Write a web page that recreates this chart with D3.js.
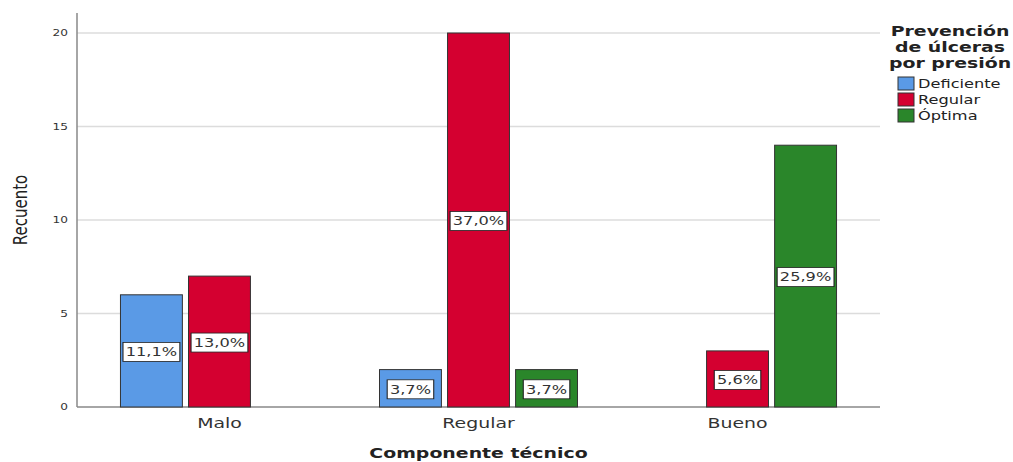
<!DOCTYPE html>
<html>
<head>
<meta charset="utf-8">
<script src="https://cdn.jsdelivr.net/npm/d3@7"></script>
<style>
  body { margin: 0; background: #fff; }
  text { font-family: "DejaVu Sans", sans-serif; }
</style>
</head>
<body>
<div class="visContainer"></div>
<script>
const categories = ['Malo', 'Regular', 'Bueno'];
const seriesNames = ['Deficiente', 'Regular', 'Óptima'];
const deficiente = [6, 2, 0];
const regular = [7, 20, 3];
const optima = [0, 2, 14];
const yTicks = [0, 5, 10, 15, 20];
const colors = ['#5a9ae6', '#d40030', '#2a862a'];

const width = 1013;
const height = 462;
const plotLeft = 77, plotRight = 880, plotTop = 13, plotBottom = 407;
const sx = 1.35; // the picture's text is drawn wide

const values = [deficiente, regular, optima];
const total = d3.sum(values.flat());
const fmt = (v) => (v / total * 100).toFixed(1).replace('.', ',') + '%';

const dataset = [];
categories.forEach((c, i) => {
    seriesNames.forEach((s, j) => {
        if (values[j][i] > 0) dataset.push({cat: c, series: s, idx: j, value: values[j][i]});
    });
});

const xScale = d3.scalePoint().domain(categories).range([plotLeft, plotRight]).padding(0.55);
const inner = d3.scaleBand().domain(seriesNames).range([-99, 99]).paddingInner(0.09);
const yScale = d3.scaleLinear().domain([0, 21.07]).range([plotBottom, plotTop]);

const svg = d3.select('.visContainer')
              .append('svg')
              .attr('width', width)
              .attr('height', height);

// gridlines
svg.selectAll('line.grid')
   .data(yTicks.filter((t) => t > 0))
   .enter()
   .append('line')
   .attr('class', 'grid')
   .attr('x1', plotLeft).attr('x2', plotRight)
   .attr('y1', (d) => yScale(d)).attr('y2', (d) => yScale(d))
   .attr('stroke', '#dcdcdc').attr('stroke-width', 1.5);

// y tick labels
svg.selectAll('text.ytick')
   .data(yTicks)
   .enter()
   .append('text')
   .attr('class', 'ytick')
   .attr('transform', (d) => `translate(68,${yScale(d)}) scale(${sx},1)`)
   .attr('text-anchor', 'end')
   .attr('dy', '0.35em')
   .attr('font-size', 9)
   .attr('fill', '#333')
   .text((d) => d);

// axes lines
svg.append('line').attr('x1', plotLeft).attr('x2', plotLeft).attr('y1', plotTop).attr('y2', plotBottom)
   .attr('stroke', '#888').attr('stroke-width', 1.5);
svg.append('line').attr('x1', plotLeft).attr('x2', plotRight).attr('y1', plotBottom).attr('y2', plotBottom)
   .attr('stroke', '#888').attr('stroke-width', 1.5);

// bars
svg.selectAll('rect.bar')
   .data(dataset)
   .enter()
   .append('rect')
   .attr('class', 'bar')
   .attr('x', (d) => xScale(d.cat) + inner(d.series))
   .attr('y', (d) => yScale(d.value))
   .attr('width', inner.bandwidth())
   .attr('height', (d) => plotBottom - yScale(d.value))
   .attr('fill', (d) => colors[d.idx])
   .attr('stroke', '#333')
   .attr('stroke-width', 1);

// value labels
const lab = svg.selectAll('g.lab')
   .data(dataset)
   .enter()
   .append('g')
   .attr('class', 'lab')
   .attr('transform', (d) => `translate(${xScale(d.cat) + inner(d.series) + inner.bandwidth() / 2},${(yScale(d.value) + plotBottom) / 2 + 1}) scale(${sx},1)`);
lab.append('rect');
lab.append('text')
   .attr('text-anchor', 'middle')
   .attr('dy', '0.36em')
   .attr('font-size', 12)
   .attr('fill', '#333')
   .text((d) => fmt(d.value));
lab.each(function() {
    const g = d3.select(this);
    const b = g.select('text').node().getBBox();
    g.select('rect')
     .attr('x', b.x - 2).attr('y', -9.5)
     .attr('width', b.width + 4).attr('height', 19)
     .attr('fill', '#fff').attr('stroke', '#222').attr('stroke-width', 0.8);
});

// x tick labels
svg.selectAll('text.xtick')
   .data(categories)
   .enter()
   .append('text')
   .attr('class', 'xtick')
   .attr('transform', (d) => `translate(${xScale(d)},428) scale(${sx},1)`)
   .attr('text-anchor', 'middle')
   .attr('font-size', 14)
   .attr('fill', '#333')
   .text((d) => d);

// axis titles
svg.append('text')
   .attr('transform', `translate(${(plotLeft + plotRight) / 2},458) scale(${sx},1)`)
   .attr('text-anchor', 'middle')
   .attr('font-size', 14)
   .attr('font-weight', 'bold')
   .attr('fill', '#222')
   .text('Componente técnico');

svg.append('text')
   .attr('transform', `translate(27,210) scale(${sx},1) rotate(-90)`)
   .attr('text-anchor', 'middle')
   .attr('font-size', 15)
   .attr('fill', '#222')
   .text('Recuento');

// legend
const legendTitle = ['Prevención', 'de úlceras', 'por presión'];
svg.selectAll('text.ltitle')
   .data(legendTitle)
   .enter()
   .append('text')
   .attr('class', 'ltitle')
   .attr('transform', (d, i) => `translate(950,${36 + i * 16}) scale(${sx},1)`)
   .attr('text-anchor', 'middle')
   .attr('font-size', 14)
   .attr('font-weight', 'bold')
   .attr('fill', '#222')
   .text((d) => d);

const leg = svg.selectAll('g.leg')
   .data(seriesNames)
   .enter()
   .append('g')
   .attr('class', 'leg')
   .attr('transform', (d, i) => `translate(898,${77 + i * 16})`);
leg.append('rect')
   .attr('width', 16).attr('height', 13)
   .attr('fill', (d, i) => colors[i])
   .attr('stroke', '#333').attr('stroke-width', 1);
leg.append('text')
   .attr('transform', `translate(20,11) scale(${sx},1)`)
   .attr('font-size', 12)
   .attr('fill', '#222')
   .text((d) => d);
</script>
</body>
</html>
